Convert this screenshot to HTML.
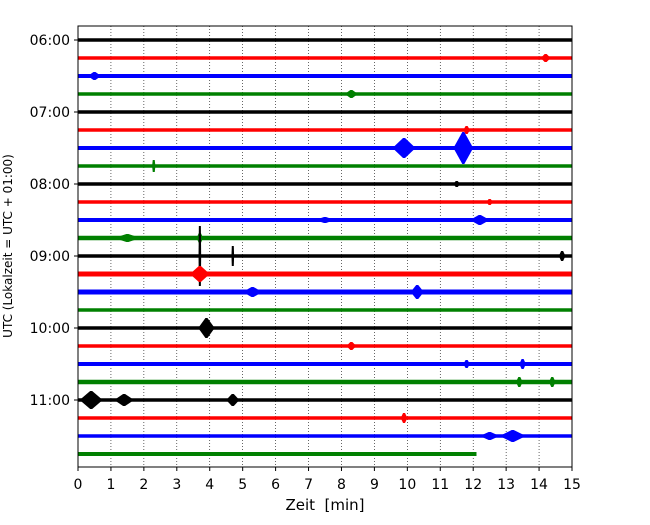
<!DOCTYPE html>
<html><head><meta charset="utf-8"><style>
body{margin:0;background:#fff;}
svg text{font-family:"DejaVu Sans","Liberation Sans",sans-serif;}
</style></head><body>
<svg width="650" height="520" viewBox="0 0 650 520">
<g id="grid"></g>
<g id="traces"></g>
<rect x="78" y="26" width="494" height="441" fill="none" stroke="#000" stroke-width="1"/>
<g id="axes"></g>
<text x="325" y="510" font-size="15" text-anchor="middle" xml:space="preserve">Zeit  [min]</text>
<text transform="translate(12,246) rotate(-90)" font-size="12" text-anchor="middle">UTC (Lokalzeit = UTC + 01:00)</text>
</svg>
<script>
const xTicks=[0,1,2,3,4,5,6,7,8,9,10,11,12,13,14,15];
const hourLabels=["06:00","07:00","08:00","09:00","10:00","11:00"];
const rowColors=["#000000","#ff0000","#0000ff","#008000"];
const rowThickness=[3.5,3.5,4,3.5,3.5,3.5,4,3.5,3.5,3.5,4,4.5,3.5,5,5,3.5,3.5,3.5,4,4.5,3.5,3.5,3.5,4];
const rowEnd=[15,15,15,15,15,15,15,15,15,15,15,15,15,15,15,15,15,15,15,15,15,15,15,12.1];
// events: [row, time(min), half-amplitude(px), half-width(min)]
const events=[[1,14.2,4,0.15],[2,0.5,4,0.2],[3,8.3,4,0.2],[5,11.8,4,0.1],
[6,9.9,10,0.35],[6,11.7,16,0.3],[7,2.3,6,0.05],[8,11.5,3,0.1],[9,12.5,3,0.1],
[10,12.2,5,0.3],[10,7.5,3,0.3],[11,1.5,4,0.4],[11,3.7,5,0.1],
[12,3.7,30,0.04],[12,4.7,10,0.04],[12,14.7,5,0.1],[13,3.7,8,0.3],
[14,10.3,7,0.2],[14,5.3,5,0.3],[16,3.9,10,0.25],[17,8.3,4,0.15],
[18,11.8,4,0.1],[18,13.5,5,0.1],[19,13.4,5,0.1],[19,14.4,5,0.1],
[20,0.4,9,0.35],[20,1.4,6,0.3],[20,4.7,6,0.2],[21,9.9,5,0.1],
[22,13.2,6,0.4],[22,12.5,4,0.3]];
const NS="http://www.w3.org/2000/svg";
const x0=78,x1=572,y0=40,dy=18;
const X=t=>x0+(x1-x0)*t/15;
const Y=r=>y0+r*dy;
function mk(tag,attrs,parent){const e=document.createElementNS(NS,tag);for(const k in attrs)e.setAttribute(k,attrs[k]);parent.appendChild(e);return e;}
const grid=document.getElementById('grid'),tr=document.getElementById('traces'),ax=document.getElementById('axes');
xTicks.forEach(t=>{
 if(t>0&&t<15){const g=mk('line',{x1:X(t),x2:X(t),y1:26,y2:467,stroke:'#000','stroke-width':0.6,'stroke-dasharray':'1,2'},grid);
 
 }
 const tk=mk('line',{x1:X(t),x2:X(t),y1:467,y2:471,stroke:'#000'},ax);
 
 
 const l=mk('text',{x:X(t),y:489,'font-size':14,'text-anchor':'middle'},ax);l.textContent=t;
 
 
});
hourLabels.forEach((h,i)=>{
 const y=Y(i*4);
 const tk=mk('line',{x1:74,x2:78,y1:y,y2:y,stroke:'#000'},ax);
 
 
 const l=mk('text',{x:70,y:y+5,'font-size':14,'text-anchor':'end'},ax);l.textContent=h;
 
 
});
rowThickness.forEach((w,r)=>{
 const c=rowColors[r%4];
 const l=mk('line',{x1:X(0),x2:X(rowEnd[r]),y1:Y(r),y2:Y(r),stroke:c,'stroke-width':w},tr);
 
 
});
events.forEach(([r,t,a,w])=>{
 const c=rowColors[r%4],y=Y(r);
 const p=mk('polygon',{points:`${X(t-w)},${y} ${X(t)-1},${y-a} ${X(t)+1},${y-a} ${X(t+w)},${y} ${X(t)+1},${y+a} ${X(t)-1},${y+a}`,fill:c},tr);
 
 
});
</script>
</body></html>
